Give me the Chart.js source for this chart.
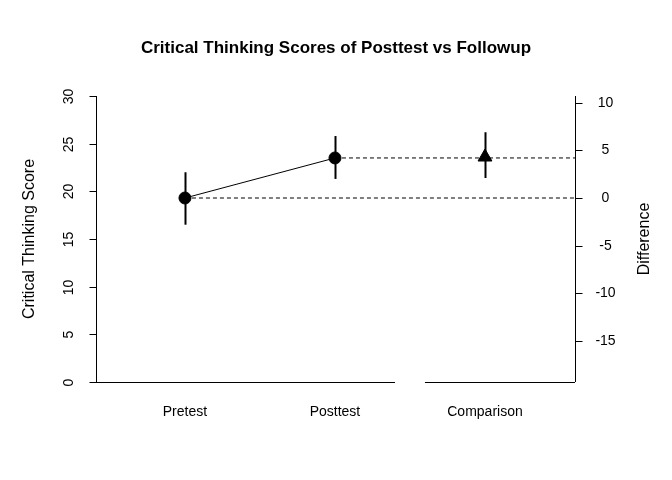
<!DOCTYPE html>
<html><head><meta charset="utf-8">
<script src="https://cdn.jsdelivr.net/npm/chart.js@4/dist/chart.umd.min.js"></script>
<style>body{margin:0;background:#fff}#c{display:block}</style>
</head><body>
<canvas id="c" width="672" height="480"></canvas>
<script>
const categories = ['Pretest', 'Posttest', 'Comparison'];
const means = [19.3, 23.5, 23.6];
const lower = [16.5, 21.3, 21.4];
const upper = [22.0, 25.8, 26.2];
const leftTicks = [0, 5, 10, 15, 20, 25, 30];
const rightTicks = [-15, -10, -5, 0, 5, 10];
const FONT = '"Liberation Sans", Arial, sans-serif';

const rAxes = {
    id: 'rAxes',
    afterDraw(chart) {
        const c = chart.ctx, x = chart.scales.x, y = chart.scales.y, y2 = chart.scales.y2;
        const a = chart.chartArea;
        c.save();
        c.strokeStyle = '#000'; c.fillStyle = '#000'; c.lineWidth = 1;
        // error bars
        categories.forEach((_, i) => {
            const px = Math.round(x.getPixelForValue(i + 1)) + 0.5;
            c.lineWidth = 2;
            c.beginPath(); c.moveTo(px, y.getPixelForValue(lower[i])); c.lineTo(px, y.getPixelForValue(upper[i])); c.stroke();
        });
        c.lineWidth = 1;
        // left axis
        const lx = a.left + 0.5;
        c.beginPath(); c.moveTo(lx, y.getPixelForValue(0)); c.lineTo(lx, y.getPixelForValue(30)); c.stroke();
        c.font = '14px ' + FONT;
        leftTicks.forEach(v => {
            const py = Math.round(y.getPixelForValue(v)) + 0.5;
            c.beginPath(); c.moveTo(lx, py); c.lineTo(lx - 7, py); c.stroke();
            c.save(); c.translate(lx - 27, py); c.rotate(-Math.PI / 2);
            c.textAlign = 'center'; c.textBaseline = 'middle'; c.fillText(String(v), 0, 0); c.restore();
        });
        // right axis
        const rx = a.right + 0.5;
        c.beginPath(); c.moveTo(rx, a.top); c.lineTo(rx, a.bottom); c.stroke();
        c.textBaseline = 'middle';
        rightTicks.forEach(v => {
            const py = Math.round(y2.getPixelForValue(v)) + 0.5;
            c.beginPath(); c.moveTo(rx, py); c.lineTo(rx + 7, py); c.stroke();
            c.textAlign = 'center'; c.fillText(String(v), rx + 30, py);
        });
        // bottom axis with break
        const by = a.bottom + 0.5;
        c.beginPath(); c.moveTo(a.left, by); c.lineTo(x.getPixelForValue(2.4), by);
        c.moveTo(x.getPixelForValue(2.6), by); c.lineTo(a.right, by); c.stroke();
        c.textAlign = 'center'; c.textBaseline = 'middle';
        categories.forEach((t, i) => c.fillText(t, x.getPixelForValue(i + 1), 412));
        // axis titles
        c.font = '16px ' + FONT;
        c.save(); c.translate(30, (a.top + a.bottom) / 2); c.rotate(-Math.PI / 2);
        c.fillText('Critical Thinking Score', 0, 0); c.restore();
        c.save(); c.translate(645, (a.top + a.bottom) / 2); c.rotate(-Math.PI / 2);
        c.fillText('Difference', 0, 0); c.restore();
        c.font = 'bold 17px ' + FONT;
        c.fillText('Critical Thinking Scores of Posttest vs Followup', 336, 48);
        c.restore();
    }
};

new Chart(document.getElementById('c'), {
    type: 'scatter',
    data: {
        datasets: [
            { data: [{ x: 1, y: means[0] }, { x: 2, y: means[1] }], showLine: true, borderColor: '#000', borderWidth: 1,
              backgroundColor: '#000', pointRadius: 6, pointStyle: 'circle' },
            { data: [{ x: 1, y: means[0] }, { x: 3.6, y: means[0] }], showLine: true, borderColor: '#000', borderWidth: 1,
              borderDash: [4, 3], pointRadius: 0 },
            { data: [{ x: 2, y: means[1] }, { x: 3.6, y: means[1] }], showLine: true, borderColor: '#000', borderWidth: 1,
              borderDash: [4, 3], pointRadius: 0 },
            { data: [{ x: 3, y: means[2] }], backgroundColor: '#000', borderColor: '#000', pointStyle: 'triangle', pointRadius: 8 }
        ]
    },
    options: {
        responsive: false, animation: false,
        layout: { padding: { left: 96, right: 97, top: 96, bottom: 98 } },
        plugins: { legend: { display: false }, tooltip: { enabled: false } },
        scales: {
            x: { type: 'linear', min: 0.407, max: 3.6, display: false },
            y: { min: 0, max: 30, display: false },
            y2: { min: -19.3, max: 10.7, display: false }
        }
    },
    plugins: [rAxes]
});
</script>
</body></html>
